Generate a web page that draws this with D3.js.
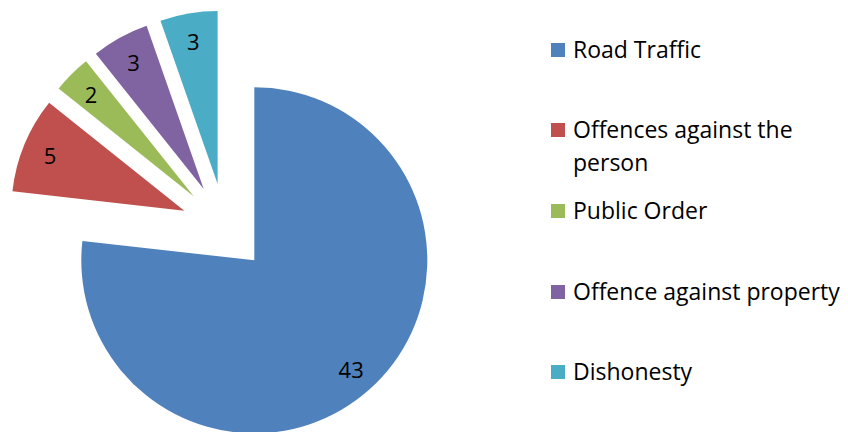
<!DOCTYPE html>
<html>
<head>
<meta charset="utf-8">
<script src="https://cdn.jsdelivr.net/npm/d3@7"></script>
<style>
  body { margin: 0; background: #fff; }
  text { font-family: "Open Sans", Lato, sans-serif; fill: #000; }
</style>
</head>
<body>
<div id="chart"></div>
<script>
// chart data
const categories = ["Road Traffic", "Offences against the person", "Public Order", "Offence against property", "Dishonesty"];
const values = [43, 5, 2, 3, 3];
const colors = ["#4F81BD", "#C0504D", "#9BBB59", "#8064A2", "#4BACC6"];
// legend lines (wrapped the same way as the picture)
const legendLines = [["Road Traffic"], ["Offences against the", "person"], ["Public Order"], ["Offence against property"], ["Dishonesty"]];

const width = 848, height = 432;
const cx = 225, cy = 227.5, radius = 173, explode = 44;

let svg = d3.select("#chart").append("svg")
    .attr("width", width)
    .attr("height", height);

let pie = d3.pie().sort(null).value(d => d)(values);
let arc = d3.arc().innerRadius(0).outerRadius(radius);

let g = svg.append("g").attr("transform", "translate(" + cx + "," + cy + ")");

let slices = g.selectAll("g.slice")
    .data(pie)
    .enter().append("g")
    .attr("class", "slice")
    .attr("transform", d => {
        let a = (d.startAngle + d.endAngle) / 2;
        return "translate(" + (Math.sin(a) * explode) + "," + (-Math.cos(a) * explode) + ")";
    });

slices.append("path")
    .attr("d", arc)
    .attr("fill", (d, i) => colors[i]);

// value labels sit at ~84% of the radius
slices.append("text")
    .attr("x", d => Math.sin((d.startAngle + d.endAngle) / 2) * radius * 0.84)
    .attr("y", d => -Math.cos((d.startAngle + d.endAngle) / 2) * radius * 0.84)
    .attr("text-anchor", "middle")
    .attr("dominant-baseline", "central")
    .style("font-size", "22px")
    .text(d => d.value);

// legend
let legend = svg.append("g").attr("transform", "translate(551,0)");
let rowY = [50, 130, 211, 292, 372];

categories.forEach((c, i) => {
    legend.append("rect")
        .attr("x", 0)
        .attr("y", rowY[i] - 7)
        .attr("width", 14)
        .attr("height", 14)
        .attr("fill", colors[i]);
    legendLines[i].forEach((line, j) => {
        legend.append("text")
            .attr("x", 22)
            .attr("y", rowY[i] + 8 + j * 33)
            .style("font-size", "23px")
            .text(line);
    });
});
</script>
</body>
</html>
